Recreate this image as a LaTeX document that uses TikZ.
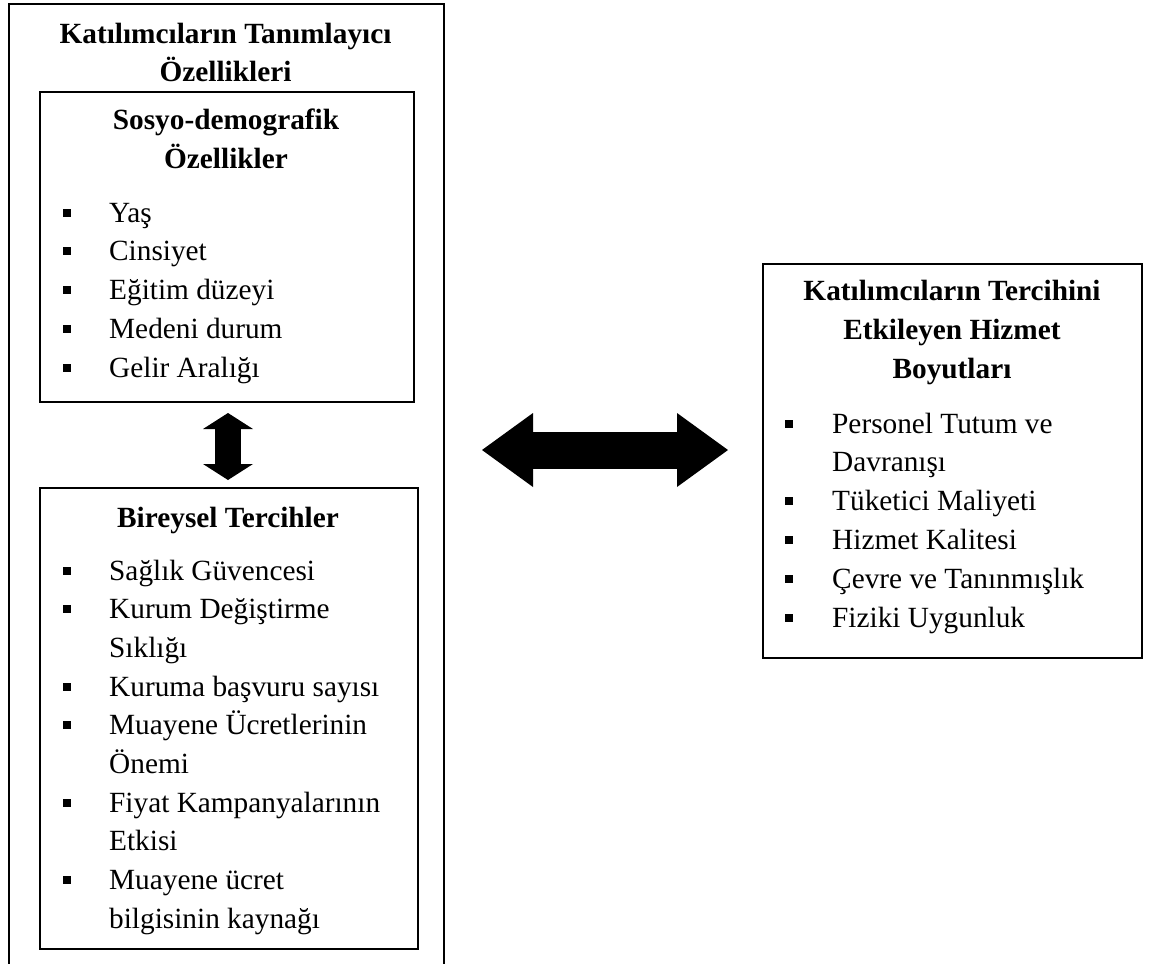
\documentclass[tikz,border=0pt]{standalone}
\usepackage{fontspec}
\setmainfont{Liberation Serif}
\usetikzlibrary{arrows.meta}

\newcommand{\govde}{\fontsize{29.3}{38.8}\selectfont}

\tikzset{
  kutu/.style={draw, line width=2pt, inner sep=0pt, anchor=north west},
  baslik/.style={font=\govde\bfseries, anchor=base, inner sep=0pt},
  madde/.style={font=\govde, anchor=base west, inner sep=0pt},
  kare/.style={fill, inner sep=0pt, minimum size=8pt},
  blokok/.style={line width=37pt,
    {Triangle[length=51pt,width=74pt,line width=0pt]}-{Triangle[length=51pt,width=74pt,line width=0pt]}},
  dikok/.style={line width=26pt,
    {Triangle[length=16pt,width=50pt,line width=0pt]}-{Triangle[length=16pt,width=50pt,line width=0pt]}}
}

\begin{document}
\begin{tikzpicture}
            [x=1pt,y=-1pt]
            \path[use as bounding box, clip] (0,0) rectangle (1152,964);
            % boxes
            \node[kutu, minimum width=435pt, minimum height=990pt] (tanim) at (8,3) {};
            \node[kutu, minimum width=374pt, minimum height=310pt] (sosyo) at (39,91) {};
            \node[kutu, minimum width=378pt, minimum height=461pt] (bireysel) at (39,487) {};
            \node[kutu, minimum width=379pt, minimum height=394pt] (hizmet) at (762,263) {};
            % titles
            \node[baslik] (tanim-1) at (225.5,43) {Katılımcıların Tanımlayıcı};
            \node[baslik] (tanim-2) at (225.5,81) {Özellikleri};
            \node[baslik] (sosyo-1) at (226,129) {Sosyo-demografik};
            \node[baslik] (sosyo-2) at (226,168) {Özellikler};
            \node[baslik] (bireysel-1) at (228,527) {Bireysel Tercihler};
            \node[baslik] (hizmet-1) at (952,300) {Katılımcıların Tercihini};
            \node[baslik] (hizmet-2) at (952,339) {Etkileyen Hizmet};
            \node[baslik] (hizmet-3) at (952,378) {Boyutları};
            % items
            \foreach \t [count=\i] in {Yaş, Cinsiyet, Eğitim düzeyi, Medeni durum, Gelir Aralığı} {
                \node[madde] (s\i) at (109,{222+38.9*(\i-1)}) {\t};
                \node[kare] (sk\i) at (67,{222+38.9*(\i-1)-9.5}) {};
            }
            \foreach \t/\b [count=\i] in {Sağlık Güvencesi/1, Kurum Değiştirme/1, Sıklığı/0,
                Kuruma başvuru sayısı/1, Muayene Ücretlerinin/1, Önemi/0,
                Fiyat Kampanyalarının/1, Etkisi/0, Muayene ücret/1, bilgisinin kaynağı/0} {
                \node[madde] (b\i) at (109,{580+38.7*(\i-1)}) {\t};
                \ifnum\b=1 \node[kare] (bk\i) at (67,{580+38.7*(\i-1)-9.5}) {}; \fi
            }
            \foreach \t/\b [count=\i] in {Personel Tutum ve/1, Davranışı/0, Tüketici Maliyeti/1,
                Hizmet Kalitesi/1, Çevre ve Tanınmışlık/1, Fiziki Uygunluk/1} {
                \node[madde] (h\i) at (832,{433+38.8*(\i-1)}) {\t};
                \ifnum\b=1 \node[kare] (hk\i) at (789,{433+38.8*(\i-1)-9.5}) {}; \fi
            }
            % arrows
            \coordinate (okA) at (482,450);
            \coordinate (okB) at (728,450);
            \coordinate (okC) at (228,413);
            \coordinate (okD) at (228,480);
            \draw[blokok] (okA) -- (okB);
            \draw[dikok] (okC) -- (okD);
        \end{tikzpicture}
\end{document}
